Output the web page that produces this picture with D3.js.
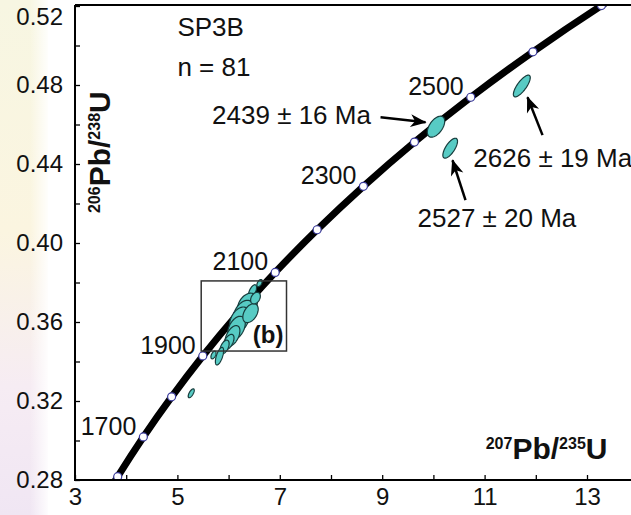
<!DOCTYPE html>
<html>
<head>
<meta charset="utf-8">
<script src="https://cdn.jsdelivr.net/npm/d3@7"></script>
<style>
html,body{margin:0;padding:0;background:#fff;}
svg{display:block;}
text{font-family:"Liberation Sans",Arial,Helvetica,sans-serif;fill:#111;}
</style>
</head>
<body>
<svg id="chart" width="631" height="515"></svg>
<script>
// ---------- DATA ----------
// Concordia nodes (age in Ma, 207Pb/235U, 206Pb/238U)
const concAges = [1500,1600,1700,1800,1900,2000,2100,2200,2300,2400,2500,2600,2700,2800];
const concX    = [3.381,3.834,4.335,4.887,5.496,6.169,6.910,7.729,8.633,9.630,10.730,11.944,13.283,14.762];
const concY    = [0.2620,0.2817,0.3018,0.3221,0.3428,0.3638,0.3851,0.4067,0.4287,0.4511,0.4738,0.4968,0.5202,0.5440];
const markerAges = [1600,1700,1800,1900,2000,2100,2200,2300,2400,2500,2600,2700];
const labelAges  = [1700,1900,2100,2300,2500];

// Analyses: centre (207/235, 206/238), 2-sigma errors, error correlation
const ellX   = [10.051,10.328,11.727,5.270, 6.604,6.467,6.369,6.291,6.213,6.154,6.076,5.998,5.920,5.822,5.705,6.428,6.525];
const ellY   = [0.4589,0.4480,0.4795,0.3239,0.3797,0.3756,0.3686,0.3645,0.3610,0.3569,0.3529,0.3498,0.3473,0.3427,0.3433,0.3645,0.3721];
const ellSX  = [0.170,0.143,0.165,0.059, 0.052,0.079,0.195,0.200,0.195,0.172,0.145,0.108,0.090,0.080,0.050,0.150,0.095];
const ellSY  = [0.00532,0.00504,0.00549,0.00225,0.00183,0.00328,0.00600,0.00650,0.00660,0.00600,0.00530,0.00395,0.00350,0.00445,0.00195,0.00480,0.00295];
const ellRho = [0.52,0.70,0.77,0.67,0.54,0.59,0.33,0.38,0.38,0.42,0.50,0.53,0.50,0.62,0.50,0.42,0.34];

const xTicks = [3,5,7,9,11,13];
const xMinor = [4,6,8,10,12,14];
const yTicks = [0.28,0.32,0.36,0.40,0.44,0.48,0.52];
const yMinor = [0.30,0.34,0.38,0.42,0.46,0.50];

const ageLabels = ["2439 ± 16 Ma","2527 ± 20 Ma","2626 ± 19 Ma"];
const ageArrowFrom = [[8.967,0.4637],[10.627,0.4217],[12.131,0.4546]];
const ageArrowTo   = [[9.846,0.4611],[10.373,0.4419],[11.838,0.4738]];
const ageTextAt    = [[8.78,0.4648],[9.69,0.4126],[10.78,0.4429]];
const ageTextAnchor= ["end","start","start"];

const boxX = [5.465,7.131];
const boxY = [0.3453,0.3808];

// ---------- CHART ----------
const W = 631, H = 515;
const svg = d3.select("#chart");
const L = 75, T = 6, B = 480;
const x = d3.scaleLinear().domain([3,14]).range([L, L + 11*51.2]);
const y = d3.scaleLinear().domain([0.28,0.52]).range([B, T]);

// faint map background on the far left
const defs = svg.append("defs");
const g1 = defs.append("linearGradient").attr("id","bgv").attr("x1",0).attr("y1",0).attr("x2",0).attr("y2",1);
g1.append("stop").attr("offset","0%").attr("stop-color","#f7f6e2");
g1.append("stop").attr("offset","45%").attr("stop-color","#fbf5e0");
g1.append("stop").attr("offset","75%").attr("stop-color","#f6ecf3");
g1.append("stop").attr("offset","100%").attr("stop-color","#f0e6f3");
const g2 = defs.append("linearGradient").attr("id","fade").attr("x1",0).attr("y1",0).attr("x2",1).attr("y2",0);
g2.append("stop").attr("offset","0%").attr("stop-color","#fff").attr("stop-opacity",0);
g2.append("stop").attr("offset","100%").attr("stop-color","#fff").attr("stop-opacity",1);
svg.append("rect").attr("x",0).attr("y",0).attr("width",48).attr("height",H).attr("fill","url(#bgv)");
svg.append("rect").attr("x",30).attr("y",0).attr("width",20).attr("height",H).attr("fill","url(#fade)");

defs.append("clipPath").attr("id","plot").append("rect")
  .attr("x",L).attr("y",T-1).attr("width",W-L).attr("height",B-T+1);

const plot = svg.append("g").attr("clip-path","url(#plot)");

// concordia curve
const conc = concAges.map((a,i)=>({age:a, x:concX[i], y:concY[i]}));
plot.append("path")
  .attr("d", d3.line().x(d=>x(d.x)).y(d=>y(d.y)).curve(d3.curveCatmullRom)(conc))
  .attr("fill","none").attr("stroke","#000").attr("stroke-width",7);

// age markers
const markers = conc.filter(d=>markerAges.includes(d.age));
plot.selectAll("circle.m").data(markers).join("circle")
  .attr("cx",d=>x(d.x)).attr("cy",d=>y(d.y)).attr("r",4)
  .attr("fill","#fff").attr("stroke","#3b3b9c").attr("stroke-width",1.2);

// error ellipses
const ellipses = ellX.map((cx,i)=>({x:cx,y:ellY[i],sx:ellSX[i],sy:ellSY[i],rho:ellRho[i]}));
function ellPts(e){
  const n=72, pts=[];
  const k=Math.sqrt(1-e.rho*e.rho);
  for(let j=0;j<n;j++){
    const t=2*Math.PI*j/n;
    pts.push([x(e.x+e.sx*Math.cos(t)), y(e.y+e.sy*(e.rho*Math.cos(t)+k*Math.sin(t)))]);
  }
  return pts;
}
plot.selectAll("path.e").data(ellipses).join("path")
  .attr("d",d=>d3.line().curve(d3.curveLinearClosed)(ellPts(d)))
  .attr("fill","#57cbc4").attr("stroke","#163c3c").attr("stroke-width",1.2);

// box (b)
svg.append("rect")
  .attr("x",x(boxX[0])).attr("y",y(boxY[1]))
  .attr("width",x(boxX[1])-x(boxX[0])).attr("height",y(boxY[0])-y(boxY[1]))
  .attr("fill","none").attr("stroke","#333").attr("stroke-width",1.5);
svg.append("text").attr("x",x(boxX[1])-3).attr("y",y(boxY[0])-8)
  .attr("text-anchor","end").attr("font-weight","bold").attr("font-size",24).attr("fill","#333").text("(b)");

// age labels on concordia
svg.selectAll("text.age").data(conc.filter(d=>labelAges.includes(d.age))).join("text")
  .attr("x",d=>x(d.x)-7).attr("y",d=>y(d.y)-11)
  .attr("text-anchor","end").attr("dominant-baseline","central")
  .attr("font-size",25).text(d=>d.age);

// arrows
const mk = defs.append("marker").attr("id","ah").attr("viewBox","-16 -8 18 16")
  .attr("refX",0).attr("refY",0).attr("markerWidth",18).attr("markerHeight",16)
  .attr("markerUnits","userSpaceOnUse").attr("orient","auto");
mk.append("path").attr("d","M1,0 L-15,-6.5 L-10.5,0 L-15,6.5 Z").attr("fill","#000");
ageLabels.forEach((lab,i)=>{
  svg.append("line")
    .attr("x1",x(ageArrowFrom[i][0])).attr("y1",y(ageArrowFrom[i][1]))
    .attr("x2",x(ageArrowTo[i][0])).attr("y2",y(ageArrowTo[i][1]))
    .attr("stroke","#000").attr("stroke-width",2.5).attr("marker-end","url(#ah)");
  svg.append("text").attr("x",x(ageTextAt[i][0])).attr("y",y(ageTextAt[i][1]))
    .attr("text-anchor",ageTextAnchor[i]).attr("dominant-baseline","central")
    .attr("font-size",26).text(lab);
});

// sample text
svg.append("text").attr("x",x(5.0)).attr("y",y(0.5094)).attr("dominant-baseline","central")
  .attr("font-size",26).text("SP3B");
svg.append("text").attr("x",x(5.0)).attr("y",y(0.4893)).attr("dominant-baseline","central")
  .attr("font-size",26).text("n = 81");

// axes
svg.append("g").attr("transform",`translate(0,${B})`)
  .call(d3.axisBottom(x).tickValues(xTicks).tickSize(-5).tickPadding(8).tickFormat(d3.format("d")));
svg.append("g").attr("transform",`translate(0,${B})`)
  .call(d3.axisBottom(x).tickValues(xMinor).tickSize(-5).tickFormat(""));
const ay = svg.append("g").attr("transform",`translate(${L},0)`)
  .call(d3.axisLeft(y).tickValues(yTicks).tickSize(-5).tickPadding(12).tickFormat(d3.format(".2f")));
svg.append("g").attr("transform",`translate(${L},0)`)
  .call(d3.axisLeft(y).tickValues(yMinor).tickSize(-5).tickFormat(""));
// top label sits just inside the picture
ay.selectAll(".tick text").filter(d=>d===0.52).attr("dy","0.32em").attr("y",11);
svg.selectAll(".domain").remove();
svg.selectAll(".tick line").attr("stroke","#000").attr("stroke-width",1.3);
svg.selectAll(".tick text").attr("font-size",24).attr("fill","#111")
  .style("font-family","'Liberation Sans',Arial,sans-serif");
// frame lines
svg.append("line").attr("x1",L).attr("x2",W).attr("y1",B).attr("y2",B).attr("stroke","#000").attr("stroke-width",2);
svg.append("line").attr("x1",L).attr("x2",L).attr("y1",T-1).attr("y2",B+1).attr("stroke","#000").attr("stroke-width",2);
svg.append("line").attr("x1",L).attr("x2",W).attr("y1",T-1).attr("y2",T-1).attr("stroke","#000").attr("stroke-width",2);

// axis titles
const xt = svg.append("text").attr("x",x(13.4)).attr("y",B-21).attr("text-anchor","end").attr("font-weight","bold");
xt.append("tspan").attr("font-size",16).attr("dy",-10).text("207");
xt.append("tspan").attr("font-size",30).attr("dy",10).text("Pb/");
xt.append("tspan").attr("font-size",16).attr("dy",-10).text("235");
xt.append("tspan").attr("font-size",30).attr("dy",10).text("U");

const yt = svg.append("text").attr("transform",`translate(${L+35},${y(0.446)}) rotate(-90)`)
  .attr("text-anchor","middle").attr("font-weight","bold");
yt.append("tspan").attr("font-size",16).attr("dy",-10).text("206");
yt.append("tspan").attr("font-size",30).attr("dy",10).text("Pb/");
yt.append("tspan").attr("font-size",16).attr("dy",-10).text("238");
yt.append("tspan").attr("font-size",30).attr("dy",10).text("U");
</script>
</body>
</html>
